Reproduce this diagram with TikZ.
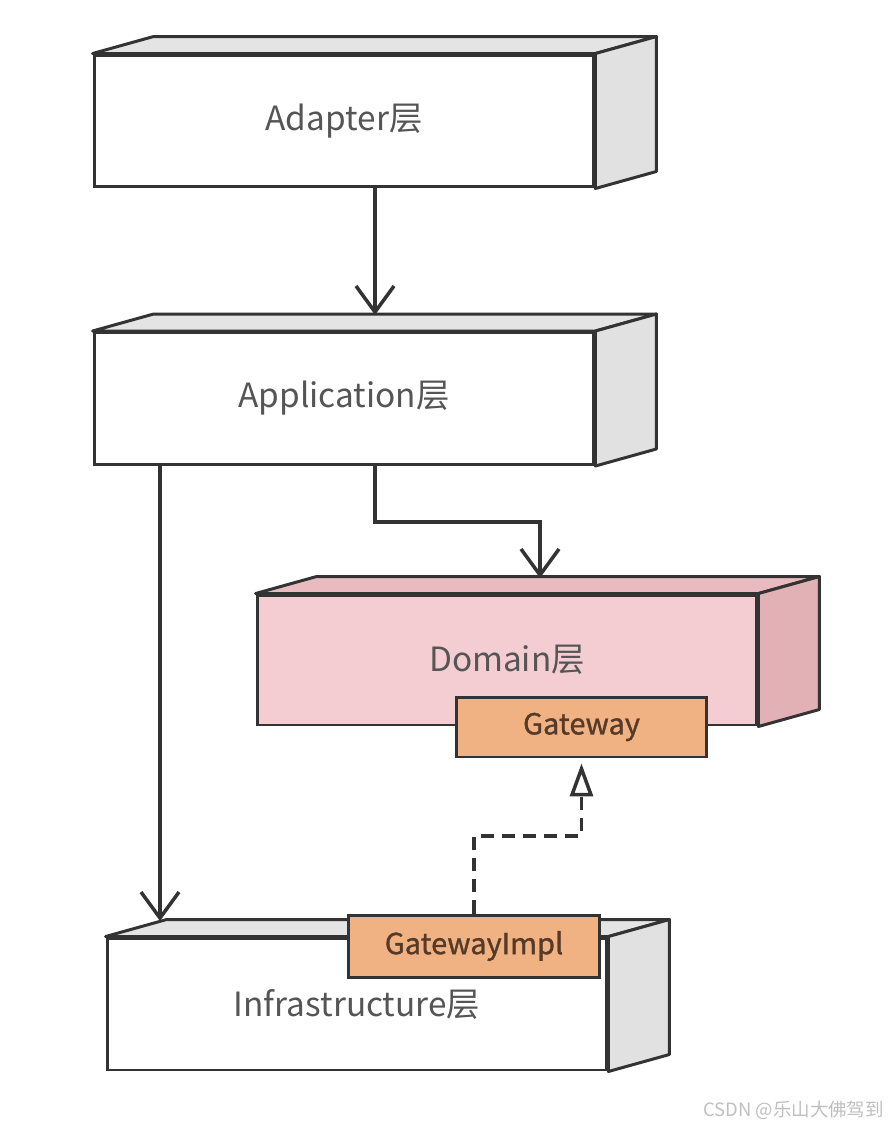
\documentclass[tikz,border=0pt]{standalone}
\usepackage{fontspec}
\setmainfont{Noto Sans CJK SC}
\newfontfamily\gwfont[FakeBold=1.1]{Noto Sans CJK SC}
\usetikzlibrary{arrows.meta,calc}
\definecolor{linec}{HTML}{333333}
\definecolor{textc}{HTML}{555555}
\definecolor{boxtop}{HTML}{E4E4E4}
\definecolor{boxside}{HTML}{E1E1E1}
\definecolor{domfront}{HTML}{F3CDD1}
\definecolor{domtop}{HTML}{E9BABF}
\definecolor{domside}{HTML}{E2B1B6}
\definecolor{gwfill}{HTML}{F0B283}
\definecolor{gwtext}{HTML}{563A28}
\begin{document}
\begin{tikzpicture}[x=0.02cm,y=-0.02cm]
		\tikzset{layer/.style = {draw=linec,line width=1.7pt,fill=white,minimum width=10cm,minimum height=2.64cm,inner sep=0pt,text=textc,font=\fontsize{19}{22}\selectfont}}
		\tikzset{face/.style = {draw=linec,line width=1.7pt,line join=round}}
		\tikzset{port/.style = {draw=linec,line width=1.7pt,fill=gwfill,minimum width=5.02cm,minimum height=1.2cm,inner sep=0pt,text=gwtext,font=\gwfont\fontsize{16.5}{19}\selectfont}}
		\tikzset{arr/.style = {draw=linec,line width=2pt,-{Straight Barb[length=5.2mm,width=7.6mm]}}}
		\tikzset{realize/.style = {draw=linec,line width=2pt,dash pattern=on 7.5pt off 4.5pt,shorten >=1mm,-{Triangle[open,length=6.6mm,width=4.6mm]}}}
		\useasboundingbox (0,0) rectangle (894,1126);
		\node[layer] (adapter) at (344,121) {Adapter层};
		\node[layer] (app) at (344,398.5) {Application层};
		\node[layer,fill=domfront,minimum height=2.6cm] (domain) at (507,660) {Domain层};
		\node[layer] (infra) at (357,1004) {Infrastructure层};
		\foreach \n/\topc/\sidec in {adapter/boxtop/boxside, app/boxtop/boxside, domain/domtop/domside, infra/boxtop/boxside} {
			\draw[face,fill=\topc] (\n.north west) -- ++(61,-17) -- ($(\n.north east)+(61,-17)$) -- (\n.north east) -- cycle;
			\draw[face,fill=\sidec] (\n.north east) -- ++(61,-17) -- ($(\n.south east)+(61,-17)$) -- (\n.south east) -- cycle;
		}
		\node[port] (gw) at (581.5,727) {Gateway};
		\node[port,minimum width=5.04cm,minimum height=1.24cm] (gwimpl) at (474,946) {GatewayImpl};
		% arrow ends on the top faces
		\coordinate (apptop) at (375,315);
		\coordinate (domtopend) at (540,578);
		\coordinate (infratop) at (160,921);
		\draw[arr] (adapter.south -| apptop) -- (apptop);
		\draw[arr] (app.south -| infratop) -- (infratop);
		\draw[arr] (app.south -| apptop) |- ($(app.south -| apptop)!.5!(domtopend)$) -| (domtopend);
		\draw[realize] (gwimpl.north) |- ($(gwimpl.north)!.5!(gw.south)$) -| (gw.south);
		\node[text=black!25,font=\fontsize{10.5}{12}\selectfont,anchor=east] (mark) at (890,1110) {CSDN @乐山大佛驾到};
	\end{tikzpicture}
\end{document}
